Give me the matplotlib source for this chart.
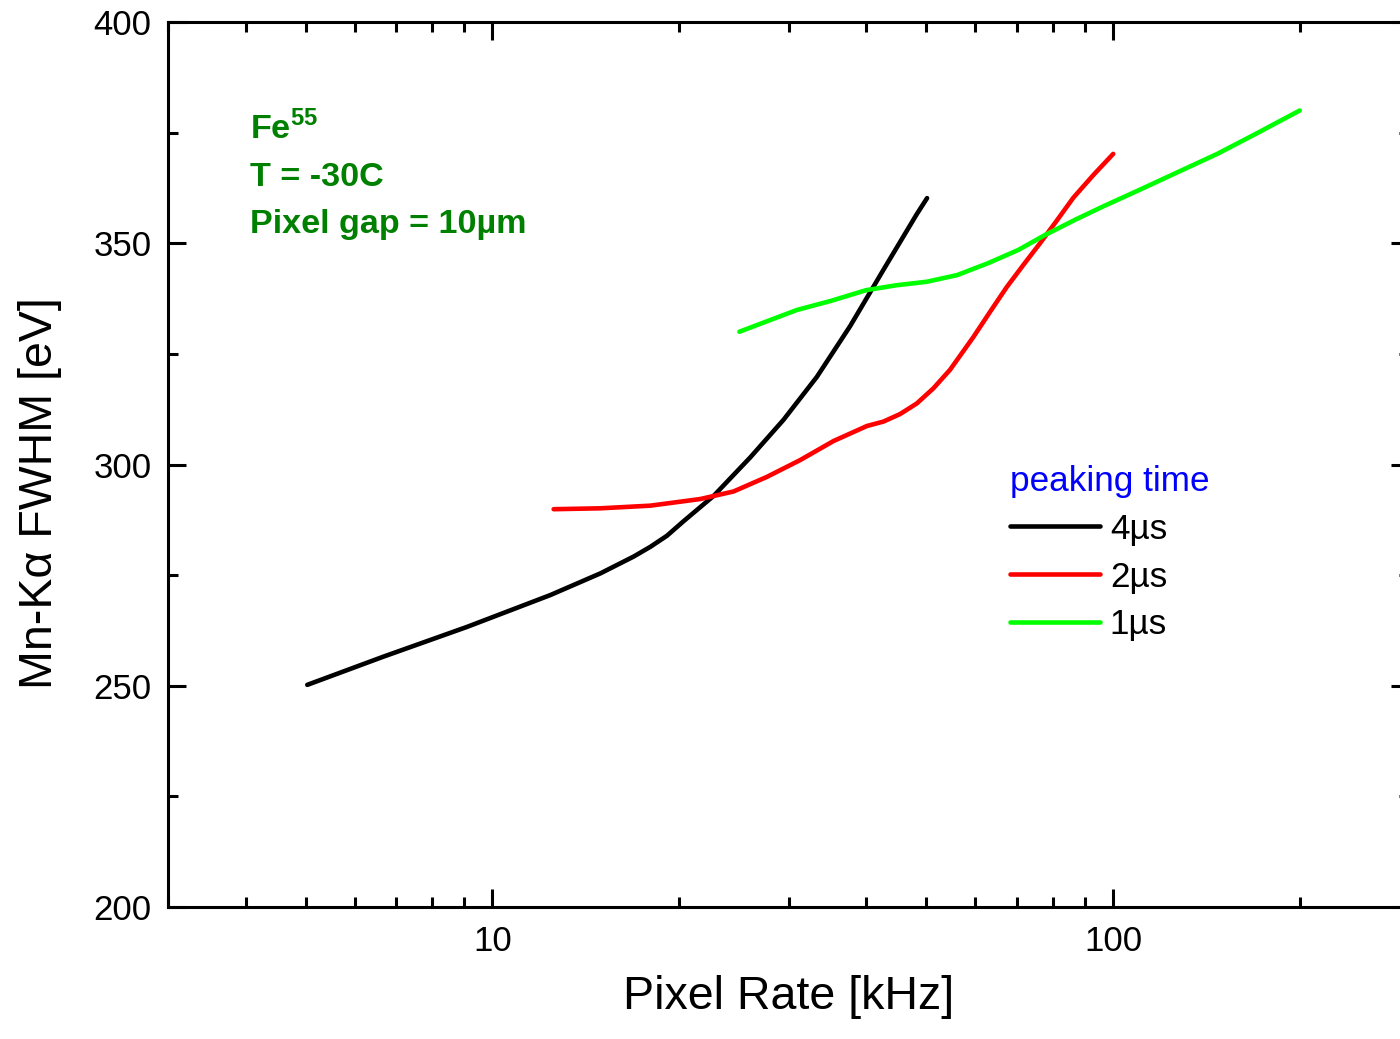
import matplotlib
matplotlib.use('Agg')
import matplotlib.pyplot as plt
from matplotlib.ticker import FixedLocator, FormatStrFormatter, NullFormatter, MultipleLocator, LogLocator

plt.rcParams['font.family'] = ['Liberation Sans', 'DejaVu Sans']
plt.rcParams['mathtext.fontset'] = 'custom'
plt.rcParams['mathtext.rm'] = 'Liberation Sans'
plt.rcParams['mathtext.bf'] = 'Liberation Sans:bold'

# FWHM vs. pixel rate for each peaking time
rate_4us = [5.03, 6.68, 9.10, 12.40, 14.93, 16.89, 17.97, 19.11, 20.33, 22.72, 26.03, 29.45,
            33.33, 37.72, 42.67, 48.30, 50.17]
fwhm_4us = [250.2, 256.6, 263.3, 270.5, 275.4, 279.2, 281.4, 283.9, 287.2, 292.9, 301.6, 310.1,
            319.8, 331.3, 344.0, 356.6, 360.2]

rate_2us = [12.55, 14.93, 17.97, 21.63, 24.46, 27.69, 31.33, 35.45, 40.13, 42.67, 45.39, 48.30,
            51.35, 54.63, 59.57, 63.38, 67.43, 71.72, 76.29, 81.17, 86.34, 92.97, 100.1]
fwhm_2us = [289.9, 290.1, 290.7, 292.2, 293.9, 297.2, 301.0, 305.3, 308.7, 309.7, 311.4, 313.8,
            317.2, 321.4, 328.8, 334.5, 340.1, 345.1, 350.0, 355.1, 360.3, 365.4, 370.2]

rate_1us = [25.00, 27.62, 30.92, 35.16, 40.03, 44.73, 50.12, 56.08, 62.93, 70.42, 77.80,
            87.18, 96.35, 110.9, 127.8, 147.3, 169.8, 200.0]
fwhm_1us = [330.0, 332.3, 334.9, 337.0, 339.4, 340.5, 341.3, 342.8, 345.5, 348.5, 351.9,
            355.4, 358.3, 362.2, 366.2, 370.2, 374.7, 380.0]

labels = ['4µs', '2µs', '1µs']
colors = ['black', '#ff0000', '#00ff00']

fig = plt.figure(figsize=(14, 10.39), dpi=100)
ax = fig.add_axes([168 / 1400, 1 - 907 / 1039, 1241 / 1400, 885 / 1039])

for x, y, lab, c in zip([rate_4us, rate_2us, rate_1us], [fwhm_4us, fwhm_2us, fwhm_1us], labels, colors):
    ax.plot(x, y, color=c, lw=3.3, label=lab, solid_capstyle='round', solid_joinstyle='round')

ax.set_xscale('log')
ax.set_xlim(3, 300)
ax.set_ylim(200, 400)

ax.xaxis.set_major_locator(FixedLocator([10, 100]))
ax.xaxis.set_major_formatter(FormatStrFormatter('%d'))
ax.xaxis.set_minor_locator(LogLocator(base=10, subs=range(2, 10)))
ax.xaxis.set_minor_formatter(NullFormatter())
ax.yaxis.set_major_locator(MultipleLocator(50))
ax.yaxis.set_minor_locator(MultipleLocator(25))

for s in ax.spines.values():
    s.set_linewidth(2.2)
ax.tick_params(which='both', direction='in', top=True, right=True, width=2.2, labelsize=25)
ax.tick_params(which='major', length=13)
ax.tick_params(which='minor', length=7)
ax.tick_params(axis='x', which='major', pad=13)
ax.tick_params(axis='y', which='major', pad=12)

ax.set_xlabel('Pixel Rate [kHz]', fontsize=33.5, labelpad=12)
fig.text(40 / 1400, 1 - 493 / 1039, 'Mn-Kα FWHM [eV]', rotation=90, fontsize=33.5,
         ha='center', va='center')

green = '#008000'
ax.text(250 / 1400, 1 - 139 / 1039, r'$\mathbf{Fe}^{\mathbf{55}}$', transform=fig.transFigure,
        fontsize=24.6, color=green, va='baseline')
ax.text(250 / 1400, 1 - 186 / 1039, 'T = -30C', transform=fig.transFigure,
        fontsize=24.6, color=green, fontweight='bold', va='baseline')
ax.text(250 / 1400, 1 - 233 / 1039, 'Pixel gap = 10µm', transform=fig.transFigure,
        fontsize=24.6, color=green, fontweight='bold', va='baseline')

leg = ax.legend(loc='upper left', bbox_to_anchor=((1010 - 168) / 1241, (907 - 465) / 885),
                frameon=False, fontsize=25.3, title='peaking time', title_fontsize=25.3,
                handlelength=2.56, handletextpad=0.28, labelspacing=0.42, borderpad=0,
                borderaxespad=0, alignment='left')
leg.get_title().set_color('#0000ff')
for line in leg.get_lines():
    line.set_linewidth(3.3)

fig.savefig('out.png', dpi=100)
